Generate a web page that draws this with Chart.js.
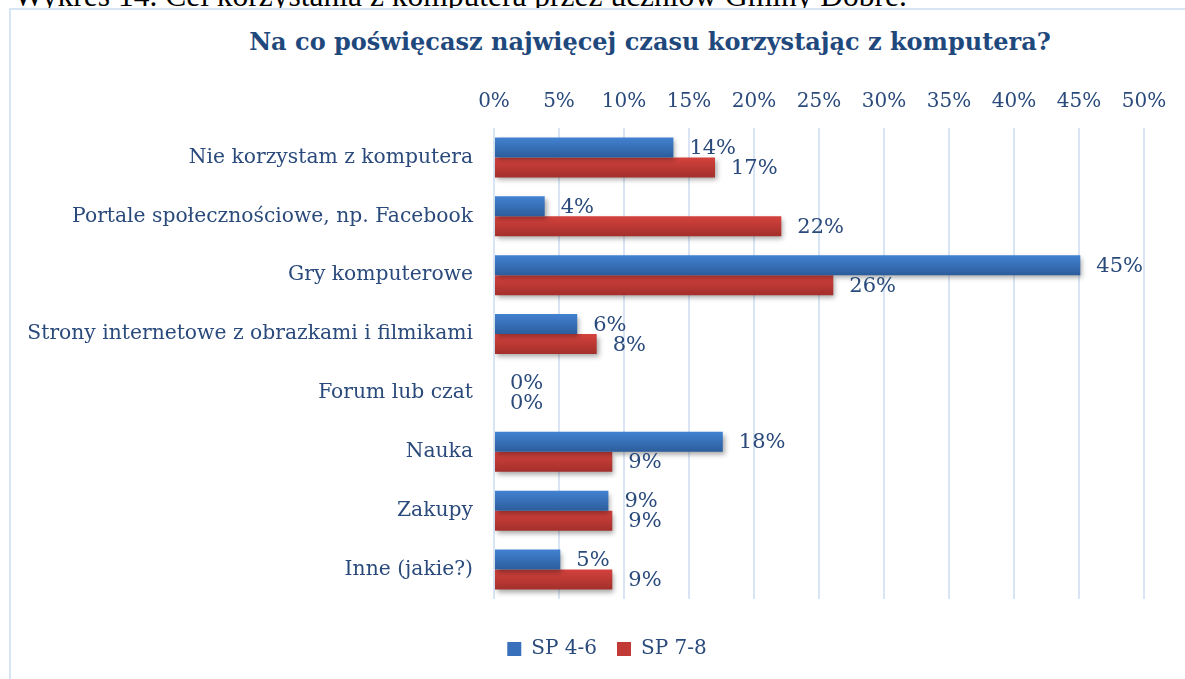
<!DOCTYPE html>
<html>
<head>
<meta charset="utf-8">
<script src="https://cdn.jsdelivr.net/npm/chart.js@4/dist/chart.umd.min.js"></script>
<style>
  html, body { margin: 0; padding: 0; background: #fff; overflow: hidden; width: 1185px; height: 679px; }
  .caption {
    position: absolute; left: 14px; top: -22px; white-space: nowrap;
    font: 31.5px "Liberation Serif", serif; color: #000;
  }
  .frame {
    position: absolute; left: 9px; top: 8px; width: 1194px; height: 680px;
    border: 2px solid #d7e4f4; box-sizing: border-box; background: #fff;
  }
  .title {
    position: absolute; left: 150px; width: 1000px; top: 27px; text-align: center;
    font: bold 24px "DejaVu Serif", serif; color: #1f497d;
  }
  .wrap { position: absolute; left: 10px; top: 8px; width: 1194px; height: 671px; }
</style>
</head>
<body>
<div class="caption">Wykres 14. Cel korzystania z komputera przez uczniów Gminy Dobre.</div>
<div class="frame"></div>
<div class="title">Na co poświęcasz najwięcej czasu korzystając z komputera?</div>
<div class="wrap"><canvas id="chart"></canvas></div>
<script>
// dane z wykresu (w %)
const categories = [
    'Nie korzystam z komputera',
    'Portale społecznościowe, np. Facebook',
    'Gry komputerowe',
    'Strony internetowe z obrazkami i filmikami',
    'Forum lub czat',
    'Nauka',
    'Zakupy',
    'Inne (jakie?)'
];
const sp46 = [13.8, 3.9, 45.1, 6.4, 0, 17.6, 8.8, 5.1];
const sp78 = [17.0, 22.1, 26.1, 7.9, 0, 9.1, 9.1, 9.1];
const seriesNames = ['SP 4-6', 'SP 7-8'];
const tickValues = [0, 5, 10, 15, 20, 25, 30, 35, 40, 45, 50];

const textColor = '#2a4a7b';
const gridColor = '#d9e5f4';
const CAT_PCT = 0.68;

// gradient dla każdego słupka (góra jaśniejsza, dół ciemniejszy)
function barGradient(top, bottom) {
    return (context) => {
        const chart = context.chart;
        const yScale = chart.scales.y;
        if (!chart.chartArea || !yScale || context.dataIndex === undefined) return top;
        const c = yScale.getPixelForValue(context.dataIndex);
        const h = (yScale.height / categories.length) * CAT_PCT / 2;
        const y0 = context.datasetIndex === 0 ? c - h : c;
        const g = chart.ctx.createLinearGradient(0, y0, 0, y0 + h);
        g.addColorStop(0, top);
        g.addColorStop(1, bottom);
        return g;
    };
}

// cień pod słupkami + etykiety wartości
const barExtras = {
    id: 'barExtras',
    beforeDatasetsDraw(chart) {
        const ctx = chart.ctx;
        ctx.save();
        ctx.shadowColor = 'rgba(0,0,0,0.35)';
        ctx.shadowBlur = 5;
        ctx.shadowOffsetX = 2;
        ctx.shadowOffsetY = 3;
    },
    afterDatasetsDraw(chart) {
        const ctx = chart.ctx;
        ctx.restore();
        ctx.save();
        ctx.font = '21px "DejaVu Serif", serif';
        ctx.fillStyle = textColor;
        ctx.textAlign = 'left';
        ctx.textBaseline = 'middle';
        chart.data.datasets.forEach((ds, di) => {
            chart.getDatasetMeta(di).data.forEach((bar, i) => {
                ctx.fillText(Math.round(ds.data[i]) + '%', bar.x + 16, bar.y + 1);
            });
        });
        ctx.restore();
    }
};

// puste osie, tylko jako odstępy
const spacerAxis = (axis, position, size) => ({
    type: 'linear',
    axis: axis,
    position: position,
    display: true,
    afterFit: (scale) => {
        if (axis === 'x') scale.height = size; else scale.width = size;
    },
    ticks: { display: false },
    grid: { display: false, drawTicks: false },
    border: { display: false }
});

const ctx = document.getElementById('chart').getContext('2d');
new Chart(ctx, {
    type: 'bar',
    data: {
        labels: categories,
        datasets: [
            {
                label: seriesNames[0],
                data: sp46,
                xAxisID: 'x',
                yAxisID: 'y',
                backgroundColor: barGradient('#4282d2', '#2c5d9c'),
                categoryPercentage: CAT_PCT,
                barPercentage: 1
            },
            {
                label: seriesNames[1],
                data: sp78,
                xAxisID: 'x',
                yAxisID: 'y',
                backgroundColor: barGradient('#d4423d', '#a32f2b'),
                categoryPercentage: CAT_PCT,
                barPercentage: 1
            }
        ]
    },
    options: {
        indexAxis: 'y',
        responsive: true,
        maintainAspectRatio: false,
        animation: false,
        layout: { padding: { top: 76, right: 0, bottom: 10, left: 0 } },
        scales: {
            x: {
                position: 'top',
                min: 0,
                max: 50,
                afterBuildTicks: (scale) => { scale.ticks = tickValues.map(v => ({ value: v })); },
                afterFit: (scale) => { scale.height = 44; },
                ticks: {
                    color: textColor,
                    font: { family: '"DejaVu Serif", serif', size: 20 },
                    padding: 14,
                    callback: (v) => v + '%'
                },
                grid: { color: gridColor, lineWidth: 2, drawTicks: false },
                border: { display: false }
            },
            y: {
                type: 'category',
                afterFit: (scale) => { scale.width = 484; },
                ticks: {
                    color: textColor,
                    font: { family: '"DejaVu Serif", serif', size: 20.3 },
                    padding: 13
                },
                grid: { display: false },
                border: { display: false }
            },
            spacerBottom: spacerAxis('x', 'bottom', 20),
            spacerRight: spacerAxis('y', 'right', 60)
        },
        plugins: {
            legend: {
                position: 'bottom',
                labels: {
                    color: textColor,
                    font: { family: '"DejaVu Serif", serif', size: 20 },
                    boxWidth: 14,
                    boxHeight: 14,
                    padding: 20,
                    generateLabels: () => [
                        { text: seriesNames[0], fillStyle: '#3870bb', strokeStyle: '#3870bb', fontColor: textColor, lineWidth: 0, datasetIndex: 0 },
                        { text: seriesNames[1], fillStyle: '#c23a36', strokeStyle: '#c23a36', fontColor: textColor, lineWidth: 0, datasetIndex: 1 }
                    ]
                }
            },
            tooltip: { enabled: false }
        }
    },
    plugins: [barExtras]
});
</script>
</body>
</html>
